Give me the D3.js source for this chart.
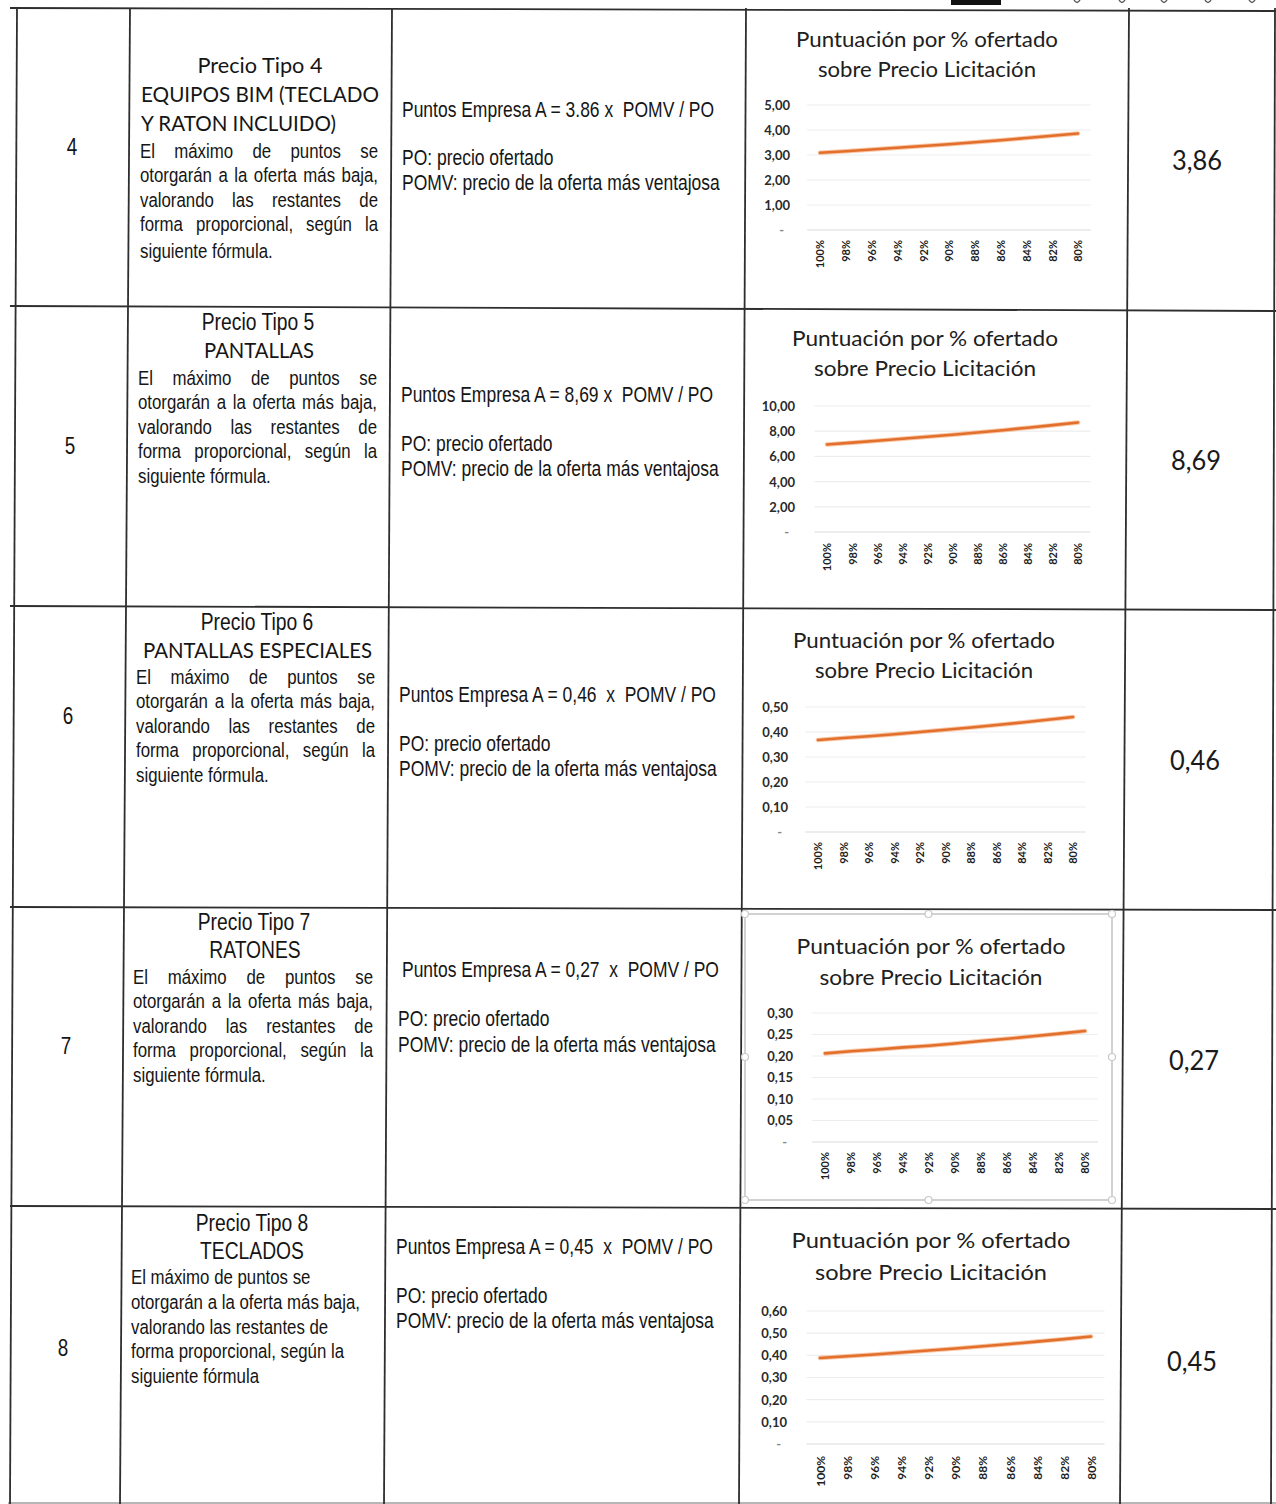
<!DOCTYPE html>
<html><head><meta charset="utf-8">
<script src="https://cdn.jsdelivr.net/npm/d3@7"></script>
<style>
html,body{margin:0;padding:0;background:#fff;}
svg{display:block;}
text{white-space:pre;}
</style></head><body>
<svg id="c" width="1276" height="1504"></svg>
<script>
// ---------------- DATA ----------------
const categories = ["100%","98%","96%","94%","92%","90%","88%","86%","84%","82%","80%"];
const rowNumbers = ["4","5","6","7","8"];
const priceTypes = ["Precio Tipo 4","Precio Tipo 5","Precio Tipo 6","Precio Tipo 7","Precio Tipo 8"];
const itemNames = [["EQUIPOS BIM (TECLADO","Y RATON INCLUIDO)"],["PANTALLAS"],["PANTALLAS ESPECIALES"],["RATONES"],["TECLADOS"]];
const bodyText = ["El máximo de puntos se","otorgarán a la oferta más baja,","valorando las restantes de","forma proporcional, según la","siguiente fórmula."];
const bodyTextLast = ["El máximo de puntos se","otorgarán a la oferta más baja,","valorando las restantes de","forma proporcional, según la","siguiente fórmula"];
const formulas = ["Puntos Empresa A = 3.86 x  POMV / PO","Puntos Empresa A = 8,69 x  POMV / PO","Puntos Empresa A = 0,46  x  POMV / PO","Puntos Empresa A = 0,27  x  POMV / PO","Puntos Empresa A = 0,45  x  POMV / PO"];
const defPO = "PO: precio ofertado";
const defPOMV = "POMV: precio de la oferta más ventajosa";
const maxPoints = ["3,86","8,69","0,46","0,27","0,45"];
const chartTitle = ["Puntuación por % ofertado","sobre Precio Licitación"];
const scores4 = [3.09,3.15,3.22,3.29,3.36,3.43,3.51,3.59,3.68,3.77,3.86];
const scores5 = [6.95,7.09,7.24,7.40,7.56,7.72,7.90,8.08,8.28,8.48,8.69];
const scores6 = [0.368,0.376,0.383,0.391,0.400,0.409,0.418,0.428,0.438,0.449,0.460];
const scores7 = [0.206,0.211,0.215,0.220,0.224,0.229,0.235,0.240,0.246,0.252,0.258];
const scores8 = [0.388,0.396,0.404,0.413,0.422,0.431,0.441,0.451,0.462,0.473,0.485];
const yTicks4 = [0,1,2,3,4,5];
const yTicks5 = [0,2,4,6,8,10];
const yTicks6 = [0,0.1,0.2,0.3,0.4,0.5];
const yTicks7 = [0,0.05,0.1,0.15,0.2,0.25,0.3];
const yTicks8 = [0,0.1,0.2,0.3,0.4,0.5,0.6];
const allScores = [scores4,scores5,scores6,scores7,scores8];
const allTicks = [yTicks4,yTicks5,yTicks6,yTicks7,yTicks8];

// ---------------- LAYOUT ----------------
const vLines = [[17,8,10,1504],[130,8,120,1504],[392,8,384,1504],[746,8,739,1504],[1129,8,1120,1504],[1275,8,1271,1504]];
const hLines = [[10,8,1276,11],[10,306,1276,311],[10,606,1276,610],[10,907,1276,910],[10,1206,1276,1209],[8,1503,1276,1503]];
const rows = [
 {num:[72,147], head:[{y:66,fam:'c',cx:260,w:125},{y:95,fam:'c',x0:141,x1:379},{y:124,fam:'c',x:141,w:195}],
  body:{x0:140,x1:378,y:[151,175,200,224,251],just:true}, form:{x:[402,402,402],y:[110,158,183]}, val:[1197,161],
  ch:{tcx:927,ty:[40,70],tw:[262,218],lr:790,x0:820,x1:1078,y0:230,y1:105,xl:240,xs:11}},
 {num:[70,446], head:[{y:322,fam:'n',cx:258},{y:351,fam:'c',cx:259,w:110}],
  body:{x0:138,x1:377,y:[378,402,427,451,476],just:true}, form:{x:[401,401,401],y:[395,444,469]}, val:[1196,461],
  ch:{tcx:925,ty:[339,369],tw:[266,222],lr:795,x0:827,x1:1078,y0:532,y1:406,xl:543,xs:11}},
 {num:[68,716], head:[{y:622,fam:'n',cx:257},{y:651,fam:'c',cx:257.5,w:229}],
  body:{x0:136,x1:375,y:[677,701,726,750,775],just:true}, form:{x:[399,399,399],y:[695,744,769]}, val:[1195,761],
  ch:{tcx:924,ty:[641,671],tw:[262,218],lr:788,x0:818,x1:1073,y0:832,y1:707,xl:842,xs:11}},
 {num:[66,1046], head:[{y:922,fam:'n',cx:254},{y:950,fam:'n',cx:255}],
  body:{x0:133,x1:373,y:[977,1001,1026,1050,1075],just:true}, form:{x:[402,398,398],y:[970,1019,1045]}, val:[1194,1061],
  ch:{tcx:931,ty:[947,978],tw:[269,223],lr:793,x0:825,x1:1085,y0:1142,y1:1013,xl:1152,xs:11,frame:[745,914,1112,1200]}},
 {num:[63,1348], head:[{y:1223,fam:'n',cx:252},{y:1251,fam:'n',cx:252}],
  body:{x0:131,y:[1277,1302,1327,1351,1376],just:false}, form:{x:[396,396,396],y:[1247,1296,1321]}, val:[1192,1362],
  ch:{tcx:931,ty:[1241,1273],tw:[279,232],lr:787,x0:820,x1:1091,y0:1444,y1:1311,xl:1456,xs:12}}
];

const svg = d3.select('#c');
svg.append('rect').attr('width',1276).attr('height',1504).attr('fill','#fff');
const NARROW = 0.82;
const INK = '#151515';
const CAL = 'Lato, "Open Sans", sans-serif';
const ARI = '"Liberation Sans", Arial, sans-serif';

function addText(g, s, o) {
  const t = g.append('text').text(s)
    .attr('font-family', o.fam === 'c' ? CAL : ARI)
    .attr('font-size', o.size).attr('font-weight', o.weight || 400)
    .attr('fill', o.fill || INK).attr('y', o.y + o.size * 0.34);
  const L = t.node().getComputedTextLength();
  const w = o.w || (o.fam === 'n' ? L * NARROW : L);
  if (Math.abs(w - L) > 0.3) t.attr('textLength', w).attr('lengthAdjust', 'spacingAndGlyphs');
  let x = o.x;
  if (o.anchor === 'middle') x -= w / 2; else if (o.anchor === 'end') x -= w;
  t.attr('x', x);
  return {t, w};
}
function justify(g, s, o) {
  const words = s.split(' ');
  const items = words.map(wd => addText(g, wd, Object.assign({}, o, {x: 0, anchor: 'start'})));
  const n = words.length;
  const W = o.x1 - o.x0;
  const minGap = o.size * 0.22;
  let sum = d3.sum(items, d => d.w);
  if (sum + (n - 1) * minGap > W) {
    const f = (W - (n - 1) * minGap) / sum;
    items.forEach(it => { it.w *= f; it.t.attr('textLength', it.w).attr('lengthAdjust', 'spacingAndGlyphs'); });
    sum = d3.sum(items, d => d.w);
  }
  const gap = (W - sum) / Math.max(1, n - 1);
  let x = o.x0;
  items.forEach(it => { it.t.attr('x', x); x += it.w + gap; });
}

// ---------------- TABLE GRID ----------------
const grid = svg.append('g').attr('stroke', '#2e2e2e').attr('stroke-width', 1.8);
grid.selectAll('line.v').data(vLines).join('line').attr('class','v')
  .attr('x1', d => d[0]).attr('y1', d => d[1]).attr('x2', d => d[2]).attr('y2', d => d[3]);
grid.selectAll('line.h').data(hLines).join('line').attr('class','h')
  .attr('x1', d => d[0]).attr('y1', d => d[1]).attr('x2', d => d[2]).attr('y2', d => d[3])
  .attr('stroke-opacity', (d,i) => i === 5 ? 0.35 : 1);

// header remnants at top edge
svg.append('rect').attr('x', 951).attr('y', 0).attr('width', 50).attr('height', 5).attr('fill', '#111');
svg.selectAll('path.dot').data([1077,1122,1164,1208,1252]).join('path').attr('class','dot')
  .attr('d', d => `M${d - 3},0 Q${d},5 ${d + 3},0`).attr('fill', 'none').attr('stroke', '#555').attr('stroke-width', 1.4);

const fmt = v => v === 0 ? '-' : d3.format('.2f')(v).replace('.', ',');

rows.forEach((r, i) => {
  const g = svg.append('g');
  // column 1
  addText(g, rowNumbers[i], {x: r.num[0], y: r.num[1], size: 23, fam: 'n', anchor: 'middle'});
  // column 2 heading
  const heads = [priceTypes[i]].concat(itemNames[i]);
  heads.forEach((s, k) => {
    const h = r.head[k];
    if (h.x0 !== undefined) {
      addText(g, s, {x: h.x0, y: h.y, size: 22, fam: h.fam, anchor: 'start', w: h.x1 - h.x0});
    } else if (h.cx !== undefined) {
      addText(g, s, {x: h.cx, y: h.y, size: h.fam === 'c' ? 22 : 23.5, fam: h.fam, anchor: 'middle', w: h.w});
    } else {
      addText(g, s, {x: h.x, y: h.y, size: 22, fam: h.fam, anchor: 'start', w: h.w});
    }
  });
  // column 2 body
  const lines = i === 4 ? bodyTextLast : bodyText;
  lines.forEach((s, k) => {
    const y = r.body.y[k];
    if (r.body.just && k < lines.length - 1) {
      justify(g, s, {x0: r.body.x0, x1: r.body.x1, y, size: 20.5, fam: 'n'});
    } else {
      addText(g, s, {x: r.body.x0, y, size: 20.5, fam: 'n', anchor: 'start'});
    }
  });
  // column 3
  [formulas[i], defPO, defPOMV].forEach((s, k) => {
    addText(g, s, {x: r.form.x[k], y: r.form.y[k], size: 21.3, fam: 'n', anchor: 'start'});
  });
  // column 5
  addText(g, maxPoints[i], {x: r.val[0], y: r.val[1], size: 26, fam: 'c', anchor: 'middle', w: 50, fill: '#1a1a1a'});

  // ---------------- CHART ----------------
  const c = r.ch;
  const cg = svg.append('g');
  if (c.frame) {
    const [fx0, fy0, fx1, fy1] = c.frame;
    cg.append('rect').attr('x', fx0).attr('y', fy0).attr('width', fx1 - fx0).attr('height', fy1 - fy0)
      .attr('fill', 'none').attr('stroke', '#c4c4c4').attr('stroke-width', 1.5).attr('rx', 2);
    const hx = [fx0, (fx0 + fx1) / 2, fx1], hy = [fy0, (fy0 + fy1) / 2, fy1];
    const handles = [];
    hx.forEach((x, a) => hy.forEach((y, b) => { if (!(a === 1 && b === 1)) handles.push([x, y]); }));
    cg.selectAll('circle.h').data(handles).join('circle').attr('class','h')
      .attr('cx', d => d[0]).attr('cy', d => d[1]).attr('r', 3.5)
      .attr('fill', '#fff').attr('stroke', '#c8c8c8').attr('stroke-width', 1.2);
  }
  chartTitle.forEach((s, k) => {
    addText(cg, s, {x: c.tcx, y: c.ty[k], size: 21, fam: 'c', anchor: 'middle', w: c.tw[k], fill: '#202020'});
  });
  const ticks = allTicks[i];
  const x = d3.scalePoint().domain(categories).range([c.x0, c.x1]);
  const y = d3.scaleLinear().domain([0, d3.max(ticks)]).range([c.y0, c.y1]);
  const st = x.step();
  // gridlines
  cg.append('g').selectAll('line').data(ticks).join('line')
    .attr('x1', c.x0 - st / 2).attr('x2', c.x1 + st / 2)
    .attr('y1', d => y(d)).attr('y2', d => y(d))
    .attr('stroke', d => d === 0 ? '#dcdcdc' : '#ededed').attr('stroke-width', 1.2);
  // y axis
  const ya = cg.append('g').attr('transform', `translate(${c.lr},0)`)
    .call(d3.axisLeft(y).tickValues(ticks).tickSize(0).tickPadding(0).tickFormat(fmt));
  ya.select('.domain').remove();
  ya.selectAll('text').attr('font-family', CAL).attr('font-size', 13).attr('font-weight', 700)
    .attr('fill', '#2a2a2a').attr('dy', '0.34em')
    .filter(d => d === 0).attr('dx', -6).attr('fill', '#888');
  // x axis
  const xa = cg.append('g').attr('transform', `translate(0,${c.xl})`)
    .call(d3.axisBottom(x).tickSize(0).tickPadding(0));
  xa.select('.domain').remove();
  xa.selectAll('text').attr('font-family', CAL).attr('font-size', c.xs).attr('font-weight', 700)
    .attr('fill', '#1e1e1e').attr('x', 0).attr('y', 0).attr('dy', '0.36em')
    .attr('text-anchor', 'end').attr('transform', 'rotate(-90)');
  // series line
  const vals = allScores[i];
  const lineGen = d3.line().x((d, k) => x(categories[k])).y(d => y(d));
  cg.append('path').datum(vals).attr('d', lineGen)
    .attr('fill', 'none').attr('stroke', '#f3a26a').attr('stroke-width', 4.5).attr('stroke-opacity', 0.6)
    .attr('stroke-linecap', 'round');
  cg.append('path').datum(vals).attr('d', lineGen)
    .attr('fill', 'none').attr('stroke', '#e36f2c').attr('stroke-width', 2.6)
    .attr('stroke-linecap', 'round');
});
</script>
</body></html>
